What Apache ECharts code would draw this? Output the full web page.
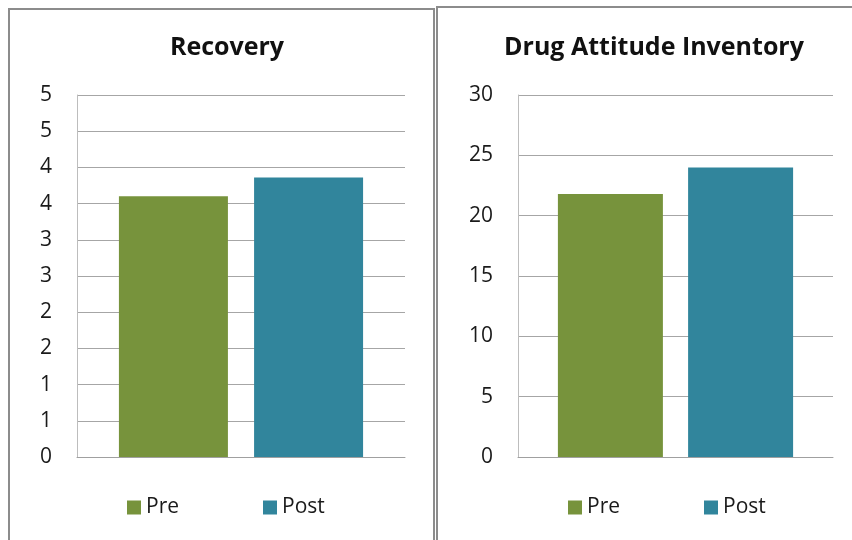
<!DOCTYPE html>
<html>
<head>
<meta charset="utf-8">
<script src="https://cdn.jsdelivr.net/npm/echarts@6/dist/echarts.min.js"></script>
<style>
  html, body { margin: 0; padding: 0; background: #fff; }
  #main { width: 852px; height: 540px; }
</style>
</head>
<body>
<div id="main"></div>
<script>
const categories = [''];
const seriesNames = ['Pre', 'Post'];
const recoveryValues = [3.6, 3.86];
const drugAttitudeValues = [21.8, 24.0];
const recoveryTicks = [0, 5, 0.5];     // min, max, step
const drugAttitudeTicks = [0, 30, 5];

const colors = ['#77933C', '#31859C'];
const font = 'Open Sans';

const dom = document.getElementById('main');
const myChart = echarts.init(dom);

function yAxis(gridIndex, ticks, round) {
  return {
    type: 'value',
    gridIndex: gridIndex,
    min: ticks[0],
    max: ticks[1],
    interval: ticks[2],
    axisLine: { show: true, lineStyle: { color: '#bdbdbd', width: 1 } },
    axisTick: { show: false },
    axisLabel: {
      margin: 25,
      color: '#1a1a1a',
      fontFamily: font,
      fontSize: 21,
      formatter: (v) => (round ? String(Math.round(v)) : String(v)),
    },
    splitLine: { lineStyle: { color: '#a6a6a6', width: 1 } },
  };
}

function xAxis(gridIndex) {
  return {
    type: 'category',
    gridIndex: gridIndex,
    data: categories,
    axisLine: { show: true, lineStyle: { color: '#a0a0a0', width: 1 } },
    axisTick: { show: false },
    axisLabel: { show: false },
  };
}

function legend(left) {
  return {
    left: left,
    top: 497,
    padding: 0,
    itemWidth: 14,
    itemHeight: 14,
    itemGap: 84,
    icon: 'rect',
    data: seriesNames,
    textStyle: { color: '#1a1a1a', fontFamily: font, fontSize: 21 },
  };
}

function bars(axisIndex, values, width) {
  return seriesNames.map((name, i) => ({
    name: name,
    type: 'bar',
    xAxisIndex: axisIndex,
    yAxisIndex: axisIndex,
    data: [values[i]],
    barWidth: width,
    barGap: '24%',
    itemStyle: { color: colors[i] },
    emphasis: { disabled: true },
  }));
}

const options = {
  animation: false,
  color: colors,
  graphic: [
    {
      type: 'rect',
      shape: { x: 9, y: 9, width: 425, height: 600 },
      style: { fill: null, stroke: '#8c8c8c', lineWidth: 2 },
    },
    {
      type: 'rect',
      shape: { x: 437, y: 7, width: 450, height: 600 },
      style: { fill: null, stroke: '#8c8c8c', lineWidth: 2 },
    },
  ],
  title: [
    {
      text: 'Recovery',
      left: 222,
      textAlign: 'center',
      top: 30,
      textStyle: { fontFamily: font, fontSize: 25, fontWeight: 'bold', color: '#111' },
    },
    {
      text: 'Drug Attitude Inventory',
      left: 649,
      textAlign: 'center',
      top: 30,
      textStyle: { fontFamily: font, fontSize: 25, fontWeight: 'bold', color: '#111' },
    },
  ],
  legend: [legend(127), legend(568)],
  grid: [
    { left: 77, right: 447, top: 95, bottom: 83 },
    { left: 518, right: 19, top: 95, bottom: 83 },
  ],
  xAxis: [xAxis(0), xAxis(1)],
  yAxis: [yAxis(0, recoveryTicks, true), yAxis(1, drugAttitudeTicks, false)],
  series: [...bars(0, recoveryValues, 109), ...bars(1, drugAttitudeValues, 105)],
};

myChart.setOption(options);
</script>
</body>
</html>
